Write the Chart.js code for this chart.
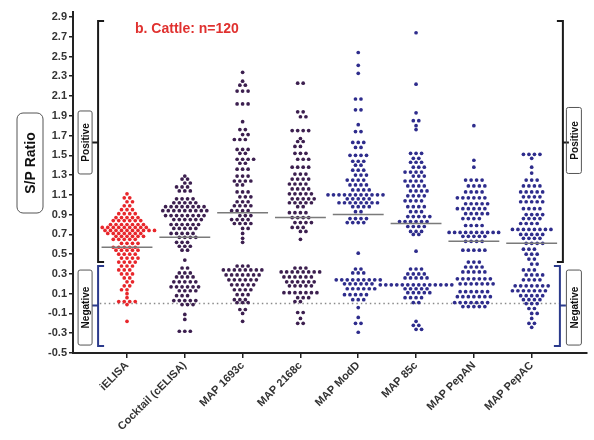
<!DOCTYPE html>
<html>
<head>
<meta charset="utf-8">
<script src="https://cdn.jsdelivr.net/npm/chart.js@4.4.0/dist/chart.umd.min.js"></script>
<style>
  html, body { margin: 0; padding: 0; background: #fff; }
  #wrap { width: 594px; height: 440px; }
</style>
</head>
<body>
<div id="wrap"><canvas id="chart" width="594" height="440"></canvas></div>
<script>
// categorías
const categories = ['iELISA', 'Cocktail (cELISA)', 'MAP 1693c', 'MAP 2168c', 'MAP ModD', 'MAP 85c', 'MAP PepAN', 'MAP PepAC'];
const yTicks = [-0.5, -0.3, -0.1, 0.1, 0.3, 0.5, 0.7, 0.9, 1.1, 1.3, 1.5, 1.7, 1.9, 2.1, 2.3, 2.5, 2.7, 2.9];

// valores S/P (n=120 por prueba)
const iELISA = [1.11,
  1.07, 1.07, 1.03, 1.03, 0.99, 0.99, 0.95, 0.95, 0.95,
  0.91, 0.91, 0.91, 0.91, 0.87, 0.87, 0.87, 0.87, 0.87,
  0.84, 0.84, 0.84, 0.84, 0.84, 0.84,
  0.80, 0.80, 0.80, 0.80, 0.80, 0.80, 0.80,
  0.77, 0.77, 0.77, 0.77, 0.77, 0.77, 0.77, 0.77, 0.77,
  0.74, 0.74, 0.74, 0.74, 0.74, 0.74, 0.74, 0.74, 0.74, 0.74,
  0.71, 0.71, 0.71, 0.71, 0.71, 0.71, 0.71,
  0.68, 0.68, 0.68, 0.68, 0.68, 0.68,
  0.65, 0.65, 0.65, 0.65, 0.65, 0.61, 0.61, 0.61, 0.61,
  0.57, 0.57, 0.57, 0.57, 0.57, 0.54, 0.54, 0.54, 0.54, 0.54,
  0.50, 0.50, 0.50, 0.50, 0.46, 0.46, 0.46, 0.46, 0.42, 0.42, 0.42, 0.42,
  0.38, 0.38, 0.38, 0.34, 0.34, 0.34, 0.30, 0.30, 0.30,
  0.26, 0.26, 0.22, 0.22, 0.18, 0.18, 0.14, 0.14, 0.10, 0.06,
  0.02, 0.02, 0.02, 0.02, -0.01, -0.18];

const cocktail = [1.29, 1.26, 1.26, 1.22, 1.22, 1.18, 1.18, 1.18, 1.14, 1.14, 1.14,
  1.06, 1.06, 1.06, 1.06, 1.02, 1.02, 1.02, 1.02, 1.02,
  0.98, 0.98, 0.98, 0.98, 0.98, 0.98, 0.98, 0.98,
  0.94, 0.94, 0.94, 0.94, 0.94, 0.94, 0.94, 0.94, 0.94,
  0.89, 0.89, 0.89, 0.89, 0.89, 0.89, 0.89, 0.89,
  0.85, 0.85, 0.85, 0.85, 0.85, 0.85, 0.80, 0.80, 0.80, 0.80, 0.80, 0.80,
  0.76, 0.76, 0.76, 0.76, 0.76, 0.71, 0.71, 0.71, 0.71, 0.71,
  0.67, 0.67, 0.67, 0.67, 0.62, 0.62, 0.62, 0.58, 0.58, 0.58, 0.54, 0.54, 0.44,
  0.36, 0.36, 0.31, 0.31, 0.31, 0.27, 0.27, 0.27, 0.27,
  0.22, 0.22, 0.22, 0.22, 0.22, 0.17, 0.17, 0.17, 0.17, 0.17, 0.17,
  0.13, 0.13, 0.13, 0.13, 0.08, 0.08, 0.08, 0.03, 0.03, 0.03, 0.03, 0.03,
  -0.01, -0.01, -0.01, -0.11, -0.16, -0.28, -0.28, -0.28];

const map1693c = [2.34, 2.25, 2.21, 2.21, 2.15, 2.15, 2.15, 2.02, 2.02, 2.02,
  1.84, 1.76, 1.76, 1.71, 1.71, 1.66, 1.66, 1.66, 1.56, 1.56, 1.56, 1.52, 1.52,
  1.46, 1.46, 1.46, 1.46, 1.42, 1.42, 1.36, 1.36, 1.36,
  1.29, 1.29, 1.29, 1.24, 1.24, 1.24, 1.24, 1.20, 1.20,
  1.13, 1.13, 1.13, 1.08, 1.08, 1.08, 1.03, 1.03, 1.03, 0.99, 0.99, 0.99, 0.99,
  0.94, 0.94, 0.94, 0.94, 0.89, 0.89, 0.89, 0.85, 0.85, 0.85, 0.85,
  0.81, 0.81, 0.81, 0.81, 0.76, 0.76, 0.71, 0.66, 0.62,
  0.38, 0.38, 0.38, 0.34, 0.34, 0.34, 0.34, 0.34, 0.34, 0.34, 0.34,
  0.29, 0.29, 0.29, 0.29, 0.29, 0.29, 0.29, 0.24, 0.24, 0.24, 0.24, 0.24, 0.24,
  0.19, 0.19, 0.19, 0.19, 0.19, 0.14, 0.14, 0.14, 0.14, 0.09, 0.09, 0.09,
  0.04, 0.04, 0.04, 0.01, 0.01, 0.01, -0.06, -0.06, -0.10, -0.18];

const map2168c = [2.23, 2.23, 1.94, 1.94, 1.89, 1.89, 1.75, 1.75, 1.75, 1.75, 1.67,
  1.64, 1.64, 1.59, 1.59, 1.52, 1.52, 1.52, 1.46, 1.46, 1.46, 1.38, 1.38, 1.38, 1.38,
  1.31, 1.31, 1.31, 1.26, 1.26, 1.26, 1.26, 1.21, 1.21, 1.21, 1.21, 1.16, 1.16, 1.16, 1.16,
  1.11, 1.11, 1.11, 1.11, 1.11, 1.06, 1.06, 1.06, 1.06, 1.06,
  1.02, 1.02, 1.02, 1.02, 1.02, 0.98, 0.98, 0.92, 0.92, 0.92, 0.92,
  0.87, 0.87, 0.87, 0.87, 0.82, 0.82, 0.82, 0.82, 0.77, 0.77, 0.77, 0.73, 0.73, 0.65,
  0.36, 0.36, 0.36, 0.32, 0.32, 0.32, 0.32, 0.32, 0.32, 0.32, 0.32,
  0.27, 0.27, 0.27, 0.27, 0.27, 0.27, 0.22, 0.22, 0.22, 0.22, 0.22, 0.22,
  0.18, 0.18, 0.18, 0.18, 0.18, 0.11, 0.11, 0.11, 0.11, 0.11, 0.11, 0.11,
  0.06, 0.06, 0.06, 0.02, 0.02, -0.09, -0.09, -0.15, -0.20, -0.20];

const mapModD = [2.54, 2.41, 2.33, 2.07, 2.07, 1.96, 1.96, 1.81, 1.74, 1.74,
  1.63, 1.63, 1.63, 1.58, 1.58, 1.50, 1.50, 1.50, 1.50, 1.44, 1.44, 1.44, 1.40, 1.40,
  1.35, 1.35, 1.35, 1.30, 1.30, 1.30, 1.25, 1.25, 1.25, 1.25, 1.20, 1.20, 1.20, 1.20,
  1.15, 1.15, 1.15, 1.15,
  1.10, 1.10, 1.10, 1.10, 1.10, 1.10, 1.10, 1.10, 1.10, 1.10, 1.10,
  1.06, 1.06, 1.06, 1.06, 1.06, 1.02, 1.02, 1.02, 1.02, 1.02, 1.02, 1.02, 1.02,
  0.98, 0.98, 0.98, 0.98, 0.93, 0.93, 0.86, 0.86, 0.86, 0.86, 0.82, 0.82, 0.82, 0.82,
  0.51, 0.35, 0.35, 0.31, 0.31, 0.31,
  0.24, 0.24, 0.24, 0.24, 0.24, 0.24, 0.24, 0.24, 0.24,
  0.20, 0.20, 0.20, 0.20, 0.20, 0.20, 0.15, 0.15, 0.15, 0.15, 0.15, 0.15,
  0.09, 0.09, 0.09, 0.09, 0.09, 0.04, 0.04, 0.04, -0.04, -0.14, -0.20, -0.20, -0.29];

const map85c = [2.74, 2.22, 1.93, 1.85, 1.85, 1.80, 1.76,
  1.52, 1.52, 1.52, 1.47, 1.47, 1.43, 1.43, 1.43, 1.38, 1.38, 1.38,
  1.33, 1.33, 1.33, 1.33, 1.29, 1.29, 1.29, 1.24, 1.24, 1.24, 1.24,
  1.19, 1.19, 1.19, 1.19, 1.14, 1.14, 1.14, 1.14, 1.09, 1.09, 1.09, 1.09,
  1.04, 1.04, 1.04, 1.04, 0.98, 0.98, 0.98, 0.98, 0.93, 0.93, 0.93,
  0.88, 0.88, 0.88, 0.88, 0.88, 0.83, 0.83, 0.83, 0.83, 0.83, 0.83,
  0.78, 0.78, 0.78, 0.78, 0.73, 0.73, 0.73, 0.70, 0.70,
  0.53, 0.35, 0.35, 0.35, 0.30, 0.30, 0.30, 0.30, 0.26, 0.26, 0.26, 0.26, 0.26,
  0.19, 0.19, 0.19, 0.19, 0.19, 0.19, 0.19, 0.19, 0.19, 0.19, 0.19, 0.19, 0.19, 0.19,
  0.15, 0.15, 0.15, 0.15, 0.15, 0.11, 0.11, 0.11, 0.11, 0.11,
  0.06, 0.06, 0.06, 0.06, 0.01, 0.01, -0.18, -0.22, -0.22, -0.26, -0.26];

const mapPepAN = [1.80, 1.45, 1.38, 1.25, 1.25, 1.25, 1.25, 1.19, 1.19, 1.19, 1.19,
  1.13, 1.13, 1.13, 1.13, 1.07, 1.07, 1.07, 1.07, 1.07, 1.07,
  1.01, 1.01, 1.01, 1.01, 1.01, 0.96, 0.96, 0.96, 0.96, 0.96, 0.96,
  0.91, 0.91, 0.91, 0.91, 0.91, 0.86, 0.86, 0.86, 0.86, 0.79, 0.79, 0.79, 0.79,
  0.72, 0.72, 0.72, 0.72, 0.72, 0.72, 0.72, 0.72, 0.72, 0.72,
  0.68, 0.68, 0.68, 0.68, 0.68, 0.63, 0.63, 0.63, 0.63, 0.54, 0.54, 0.54, 0.54, 0.54,
  0.42, 0.42, 0.42, 0.37, 0.37, 0.37, 0.37, 0.32, 0.32, 0.32, 0.32, 0.32,
  0.25, 0.25, 0.25, 0.25, 0.25, 0.25, 0.25, 0.20, 0.20, 0.20, 0.20, 0.20, 0.20, 0.20,
  0.12, 0.12, 0.12, 0.12, 0.12, 0.12, 0.07, 0.07, 0.07, 0.07, 0.07, 0.07, 0.07,
  0.01, 0.01, 0.01, 0.01, 0.01, 0.01, 0.01, -0.03, -0.03, -0.03, -0.03, -0.03];

const mapPepAC = [1.51, 1.51, 1.51, 1.51, 1.47, 1.38, 1.32, 1.25, 1.25, 1.25,
  1.19, 1.19, 1.19, 1.19, 1.13, 1.13, 1.13, 1.13, 1.13, 1.08, 1.08, 1.08, 1.08,
  1.03, 1.03, 1.03, 1.03, 1.03, 0.96, 0.96, 0.96, 0.96, 0.90, 0.90, 0.90, 0.90,
  0.86, 0.86, 0.86, 0.86, 0.81, 0.81, 0.81, 0.81,
  0.75, 0.75, 0.75, 0.75, 0.75, 0.75, 0.75, 0.75, 0.70, 0.70, 0.70, 0.70, 0.70,
  0.66, 0.66, 0.66, 0.66, 0.61, 0.61, 0.61, 0.61, 0.55, 0.55, 0.55, 0.50, 0.50, 0.50, 0.45, 0.45,
  0.40, 0.40, 0.34, 0.34, 0.34, 0.29, 0.29, 0.29, 0.29, 0.24, 0.24, 0.24, 0.24,
  0.18, 0.18, 0.18, 0.18, 0.18, 0.18, 0.18, 0.13, 0.13, 0.13, 0.13, 0.13, 0.13, 0.13,
  0.08, 0.08, 0.08, 0.08, 0.08, 0.04, 0.04, 0.04, 0.04, 0.00, 0.00, 0.00,
  -0.05, -0.05, -0.10, -0.10, -0.15, -0.20, -0.20, -0.24];

const seriesValues = [iELISA, cocktail, map1693c, map2168c, mapModD, map85c, mapPepAN, mapPepAC];
const lineValues = [0.57, 0.67, 0.92, 0.87, 0.90, 0.81, 0.63, 0.61];   // línea central de cada grupo
const dotColors = ['#e8262b', '#3c1f4f', '#3c1f4f', '#3c1f4f', '#2e2c8c', '#2e2c8c', '#2e2c8c', '#2e2c8c'];

// rangos de las llaves Positive / Negative
const posRange = [0.42, 2.86], posMid = 1.63;
const negRange = [-0.43, 0.38], negMid = -0.02;

const FONT = "'Liberation Sans', Arial, sans-serif";

function bracket(ctx, bx, top, bottom, mid, dir, color) {
    ctx.strokeStyle = color;
    ctx.lineWidth = 2;
    ctx.beginPath();
    ctx.moveTo(bx + 6 * dir, top);
    ctx.lineTo(bx, top);
    ctx.lineTo(bx, bottom);
    ctx.lineTo(bx + 6 * dir, bottom);
    ctx.moveTo(bx, mid);
    ctx.lineTo(bx - 6 * dir, mid);
    ctx.stroke();
}

function labelBox(ctx, cx, cy, w, h, r, text, font) {
    ctx.strokeStyle = '#555';
    ctx.lineWidth = 1;
    ctx.beginPath();
    ctx.roundRect(cx - w / 2, cy - h / 2, w, h, r);
    ctx.stroke();
    ctx.save();
    ctx.translate(cx, cy);
    ctx.rotate(-Math.PI / 2);
    ctx.fillStyle = '#111';
    ctx.font = font;
    ctx.textAlign = 'center';
    ctx.textBaseline = 'middle';
    ctx.fillText(text, 0, 1);
    ctx.restore();
}

const decor = {
    id: 'decor',
    afterDraw(chart) {
        const { ctx, scales: { x, y } } = chart;
        ctx.save();
        ctx.fillStyle = '#e0312f';
        ctx.font = 'bold 14px ' + FONT;
        ctx.textBaseline = 'middle';
        ctx.fillText('b. Cattle: n=120', 135, 29);

        const lx = x.getPixelForValue(0.5);
        const rx = x.getPixelForValue(8.54);
        bracket(ctx, lx, y.getPixelForValue(posRange[1]), y.getPixelForValue(posRange[0]), y.getPixelForValue(posMid), 1, '#1a1a1a');
        bracket(ctx, lx, y.getPixelForValue(negRange[1]), y.getPixelForValue(negRange[0]), y.getPixelForValue(negMid), 1, '#2b3a8c');
        bracket(ctx, rx, y.getPixelForValue(posRange[1]), y.getPixelForValue(posRange[0]), y.getPixelForValue(posMid), -1, '#1a1a1a');
        bracket(ctx, rx - 3, y.getPixelForValue(negRange[1]), y.getPixelForValue(negRange[0]), y.getPixelForValue(negMid), -1, '#2b3a8c');

        const small = 'bold 10px ' + FONT;
        labelBox(ctx, lx - 13, y.getPixelForValue(posMid), 14, 63, 2, 'Positive', small);
        labelBox(ctx, lx - 13, y.getPixelForValue(negMid) + 2, 14, 75, 2, 'Negative', small);
        labelBox(ctx, rx + 11, y.getPixelForValue(posMid) - 2, 15, 66, 2, 'Positive', small);
        labelBox(ctx, rx + 11, y.getPixelForValue(negMid) + 2, 15, 75, 2, 'Negative', small);

        labelBox(ctx, 30, 163, 26, 100, 6, 'S/P Ratio', 'bold 14px ' + FONT);
        ctx.restore();
    }
};

const datasets = [];
seriesValues.forEach((vals, i) => {
    datasets.push({
        type: 'scatter',
        data: [],
        backgroundColor: dotColors[i],
        borderWidth: 0,
        pointRadius: 1.85,
        order: 1
    });
});
lineValues.forEach((m, i) => {
    datasets.push({
        type: 'line',
        data: [{ x: i + 1 - 0.44, y: m }, { x: i + 1 + 0.44, y: m }],
        borderColor: '#7a7a7a',
        borderWidth: 1.5,
        pointRadius: 0,
        order: 0
    });
});
datasets.push({
    type: 'line',
    data: [{ x: 0.53, y: 0 }, { x: 8.49, y: 0 }],
    borderColor: '#8a8a8a',
    borderWidth: 1.5,
    borderDash: [1.5, 3],
    pointRadius: 0,
    order: 2
});

const ctx = document.getElementById('chart').getContext('2d');
const chart = new Chart(ctx, {
    type: 'scatter',
    data: { datasets: datasets },
    options: {
        responsive: false,
        animation: false,
        devicePixelRatio: 1,
        layout: { padding: { left: 0, top: 12, right: 7, bottom: 0 } },
        plugins: { legend: { display: false }, tooltip: { enabled: false } },
        scales: {
            x: {
                type: 'linear',
                min: 0.066,
                max: 8.957,
                afterBuildTicks: axis => { axis.ticks = categories.map((c, i) => ({ value: i + 1 })); },
                afterFit: scale => { scale.height = 87; },
                border: { display: true, color: '#222', width: 2 },
                grid: { drawOnChartArea: false, drawTicks: true, tickLength: 5, color: '#222', lineWidth: 1.5 },
                ticks: {
                    minRotation: 45,
                    maxRotation: 45,
                    autoSkip: false,
                    padding: 1,
                    color: '#333',
                    font: { family: FONT, size: 11, weight: 'bold' },
                    callback: v => categories[v - 1]
                }
            },
            y: {
                min: -0.5,
                max: 2.95,
                afterBuildTicks: axis => { axis.ticks = yTicks.map(v => ({ value: v })); },
                afterFit: scale => { scale.width = 73; },
                border: { display: true, color: '#222', width: 2 },
                grid: { drawOnChartArea: false, drawTicks: true, tickLength: 4, color: '#222', lineWidth: 1.5 },
                ticks: {
                    padding: 2,
                    color: '#333',
                    font: { family: FONT, size: 11, weight: 'bold' },
                    callback: v => v.toFixed(1)
                }
            }
        }
    },
    plugins: [decor]
});

// los valores iguales se reparten en una fila centrada; filas vecinas se desfasan medio hueco
function rowLayout(values, center, xs, ys, gap) {
    const pxPerUnit = xs.getPixelForValue(center + 1) - xs.getPixelForValue(center);
    const groups = new Map();
    values.forEach(v => groups.set(v, (groups.get(v) || 0) + 1));
    const rows = [...groups.entries()].sort((a, b) => b[0] - a[0]);
    const pts = [];
    let prevY = null, prevPhase = null, flip = 1;
    rows.forEach(([v, n]) => {
        const py = ys.getPixelForValue(v);
        let shift = 0;
        let phase = (n % 2) ? 0 : 0.5;
        if (prevY !== null && Math.abs(py - prevY) < 6 && phase === prevPhase && n > 1) {
            shift = flip * gap / 2;
            flip = -flip;
            phase = 0.5 - phase;
        }
        for (let k = 0; k < n; k++) {
            const off = (k - (n - 1) / 2) * gap + shift;
            pts.push({ x: center + off / pxPerUnit, y: v });
        }
        prevY = py;
        prevPhase = phase;
    });
    return pts;
}

seriesValues.forEach((vals, i) => {
    chart.data.datasets[i].data = rowLayout(vals, i + 1, chart.scales.x, chart.scales.y, 5.5);
});
chart.update('none');
</script>
</body>
</html>
